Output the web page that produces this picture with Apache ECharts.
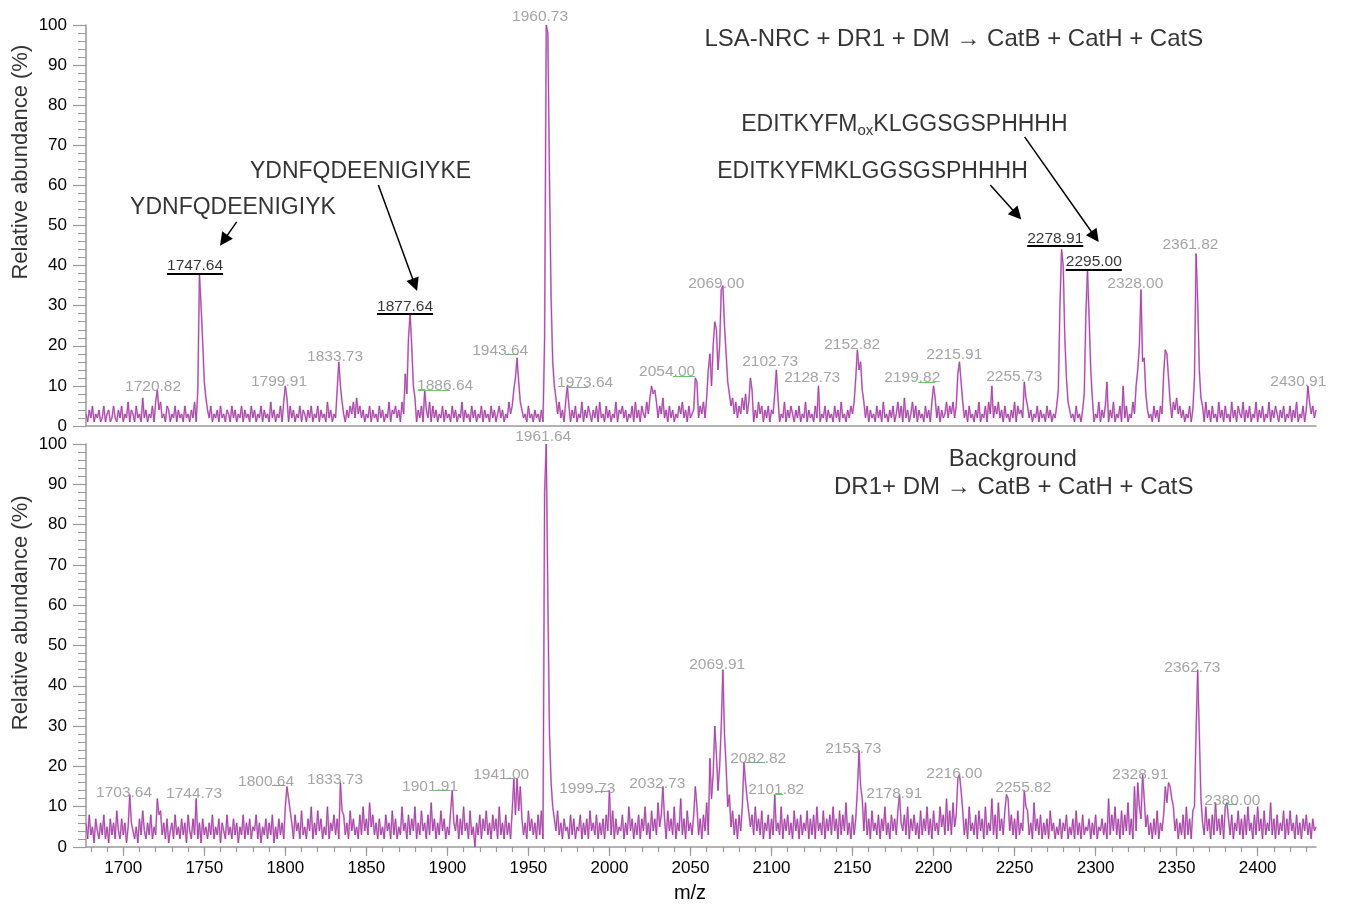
<!DOCTYPE html>
<html>
<head>
<meta charset="utf-8">
<script src="https://cdn.jsdelivr.net/npm/echarts@6/dist/echarts.min.js"></script>
<style>
html,body{margin:0;padding:0;background:#fff;}
#chart{width:1347px;height:910px;}
</style>
</head>
<body>
<div id="chart"></div>
<script>
// ---------------- DATA ----------------
const X_MIN = 1677, X_MAX = 2436;
const MZ_START = 1677; // first m/z of the noise arrays (1 m/z step)

// Top spectrum: baseline noise (1 m/z step, 1677..2436)
const noiseTop = [
3,1,4,2,5,1,3,2,4,1,2,5,1,3,4,1,2,5,2,1,
4,2,5,1,3,2,6,1,4,3,1,5,2,3,1,6,2,4,1,3,
2,5,1,4,3,1,6,2,3,1,5,4,1,3,2,5,1,4,2,3,
1,5,2,3,1,4,2,6,1,3,2,4,2,3,1,4,2,5,1,3,
2,4,1,5,2,3,1,4,3,1,5,2,4,1,3,2,5,1,4,2,
3,1,5,2,4,1,3,2,5,1,4,2,3,1,6,2,4,1,3,2,
5,1,4,2,3,1,5,2,4,1,3,2,5,1,4,3,1,4,2,5,
1,3,2,5,1,4,2,3,1,6,2,4,1,3,2,5,1,4,2,3,
1,4,2,5,3,6,2,7,3,5,2,4,1,3,2,5,1,4,2,3,
1,5,2,4,1,3,2,6,1,4,3,5,2,4,1,6,3,7,4,6,
3,5,2,6,1,4,2,5,1,3,4,2,6,1,5,2,4,1,3,2,
5,1,4,2,3,1,5,2,4,1,3,2,6,1,4,2,3,1,5,2,
4,1,3,2,5,1,4,2,3,1,5,2,4,1,3,5,2,4,1,3,
2,6,3,5,2,4,2,5,1,4,2,3,1,5,2,3,1,4,2,3,
1,4,2,3,1,1,1,1,1,1,5,3,6,2,4,1,6,2,5,1,
4,2,5,1,3,2,6,1,4,2,5,3,1,4,2,5,1,6,2,3,
1,5,2,4,1,3,2,6,1,4,3,5,2,4,1,3,2,5,1,6,
2,4,1,5,3,2,6,3,7,4,8,3,6,2,5,3,7,2,4,1,
5,2,4,1,3,2,5,3,6,2,4,1,5,2,3,4,1,3,2,5,
3,6,2,7,4,9,3,5,4,8,5,9,6,10,7,9,6,10,5,7,
3,6,2,5,3,7,4,8,3,6,2,5,1,4,2,6,3,5,1,4,
2,5,1,4,3,6,2,5,1,3,2,6,1,4,2,5,3,1,4,2,
5,1,3,2,6,1,4,2,3,1,5,2,4,1,3,2,5,1,4,2,
3,1,5,2,4,1,6,2,3,1,4,2,5,3,6,4,8,5,7,3,
6,2,5,1,4,2,3,1,5,2,4,1,6,2,3,1,4,2,5,1,
3,6,2,5,1,7,2,4,1,3,6,2,5,1,4,2,3,1,5,2,
4,1,6,3,7,2,5,1,4,2,3,6,2,5,3,6,2,5,4,7,
3,6,2,4,1,5,2,3,1,4,2,6,1,3,2,5,1,6,3,7,
2,5,3,6,2,4,1,5,2,3,1,4,2,6,1,5,3,4,2,6,
3,5,2,4,1,3,2,5,1,4,2,3,1,5,2,4,1,3,2,5,
1,4,3,6,2,5,1,4,2,3,1,5,2,3,1,4,2,5,1,3,
2,5,1,3,2,6,1,4,2,5,3,1,4,2,6,1,3,2,5,1,
4,2,5,1,3,2,6,3,5,2,4,6,2,5,1,4,2,3,1,5,
2,4,1,5,3,6,4,7,3,5,2,6,4,7,3,5,2,4,1,3,
2,5,1,4,2,3,1,3,2,5,1,6,2,4,1,5,2,3,1,6,
2,4,1,5,2,3,1,6,2,4,1,5,3,2,6,1,4,2,5,1,
3,2,6,1,4,2,5,1,3,2,6,1,4,2,5,3,1,4,2,5,
1,3,2,5,1,4,2,6,1,3,2,5,1,4,2,6,3,5,2,4
];

// Top spectrum: peak profiles [m/z, relative abundance]
const peaksTop = [
[1712,7],[1720,6],[1721,9],[1722,4],
[1746,9],[1747,38],[1748,30],[1749,21],[1750,11],[1751,7],
[1799,6],[1800,10],[1801,7],
[1832,9],[1833,16],[1834,10],[1835,6],
[1874,13],[1875,8],[1876,22],[1877,28],[1878,20],[1879,10],[1880,7],
[1886,9],
[1941,9],[1942,12],[1943,17],[1944,11],[1945,6],
[1959,1],[1960,22],[1961,100],[1962,98],[1963,62],[1964,32],[1965,16],[1966,10],[1967,7],
[1974,10],
[2026,10],[2028,9],
[2053,12],[2054,11],
[2061,14],[2062,18],[2063,10],[2064,20],[2065,26],[2066,24],[2067,14],[2068,20],[2069,34],[2070,35],[2071,25],[2072,18],[2073,11],[2074,8],
[2087,12],[2088,9],
[2102,8],[2103,14],[2104,7],
[2129,10],
[2152,12],[2153,19],[2154,14],[2155,16],[2156,9],
[2200,10],[2201,7],
[2215,13],[2216,16],[2217,11],
[2236,10],
[2256,11],[2257,7],
[2277,9],[2278,30],[2279,44],[2280,40],[2281,22],[2282,12],[2283,6],
[2293,8],[2294,28],[2295,39],[2296,27],[2297,14],[2298,7],
[2307,11],[2317,10],
[2325,10],[2326,14],[2327,20],[2328,34],[2329,16],[2330,17],[2331,8],
[2342,13],[2343,19],[2344,18],[2345,12],[2346,6],
[2361,12],[2362,43],[2363,31],[2364,14],[2365,7],
[2431,10]
];

// Bottom spectrum (background): baseline noise (1 m/z step, 1677..2436)
const noiseBottom = [
6,2,8,3,5,1,7,4,2,6,3,8,2,5,1,7,3,6,2,9,
4,2,7,3,6,1,5,8,3,6,2,5,1,7,3,9,4,2,6,3,
8,2,5,3,7,4,9,3,6,2,7,1,4,6,2,8,3,5,2,7,
3,6,1,8,4,2,7,3,5,2,6,1,7,3,5,2,6,3,8,2,
5,3,7,1,6,4,2,8,3,5,2,7,3,6,1,5,3,8,2,6,
3,7,2,5,4,8,2,6,1,5,3,7,2,6,3,8,1,5,2,7,
3,6,2,9,4,7,3,6,2,8,4,6,2,9,3,5,2,7,4,10,
2,6,3,9,4,7,2,5,3,10,2,6,4,8,3,7,2,6,5,8,
3,6,2,9,4,7,3,5,2,8,3,10,4,7,3,11,5,8,3,6,
2,7,3,5,2,8,4,6,2,9,3,7,2,5,3,10,4,6,2,8,
3,7,4,10,2,6,3,9,4,6,2,8,3,11,4,7,2,6,3,9,
4,7,2,5,3,9,2,6,4,8,2,7,3,10,4,6,2,9,3,5,
0,6,3,8,2,7,4,9,3,6,2,8,4,7,2,10,3,6,2,8,
3,6,2,9,4,6,3,8,2,7,3,6,2,9,4,7,3,6,2,8,
3,9,4,5,2,6,3,6,2,7,4,9,3,6,2,7,4,5,2,8,
3,7,2,5,4,8,2,6,3,7,2,9,4,6,3,8,2,6,3,7,
2,8,4,6,3,9,2,7,3,5,4,8,2,6,3,10,4,7,2,6,
3,8,2,7,4,10,3,6,2,9,4,7,3,11,5,8,3,7,2,9,
4,7,3,10,2,6,4,8,3,7,2,9,4,6,3,8,4,10,3,7,
2,8,4,11,3,9,5,8,4,10,6,9,5,12,7,10,6,13,5,9,
3,7,2,8,4,10,3,9,4,12,5,8,3,10,4,7,3,9,2,6,
4,8,2,7,3,9,4,6,3,10,2,7,4,8,3,6,2,9,4,7,
2,8,3,6,4,9,2,7,3,8,2,10,4,6,3,9,2,7,4,8,
3,10,4,7,2,9,3,8,4,11,3,6,2,8,3,7,2,9,5,8,
4,11,3,7,2,9,4,6,3,8,2,7,4,10,3,6,2,8,4,7,
3,9,2,6,4,8,3,10,2,7,4,8,3,6,2,9,3,7,4,10,
3,7,2,9,4,6,3,10,5,8,3,12,4,9,3,11,5,8,4,10,
5,9,3,7,2,10,4,6,3,8,2,9,4,7,2,10,3,6,4,12,
3,8,2,11,4,7,3,9,2,12,4,8,3,7,2,9,3,6,4,10,
4,9,3,6,2,11,4,7,3,8,2,6,3,7,2,9,4,6,2,5,
3,7,2,6,4,8,2,5,3,7,2,9,3,6,2,8,3,5,4,7,
2,6,3,8,2,5,4,7,3,6,2,12,3,8,4,10,3,7,2,9,
3,8,4,11,3,7,2,13,4,9,3,7,2,12,5,8,3,6,2,7,
3,9,2,6,4,8,3,11,5,9,3,10,4,7,2,6,3,8,2,10,
3,7,2,9,4,6,3,7,2,6,3,10,4,7,2,8,3,11,4,7,
3,8,2,10,4,7,3,8,2,6,4,9,3,7,2,8,3,10,4,6,
2,8,3,10,4,7,2,9,3,6,4,11,3,7,2,8,3,6,4,9,
2,7,3,9,4,6,2,8,3,6,2,7,4,8,3,6,2,7,4,5
];

// Bottom spectrum: peak profiles [m/z, relative abundance]
const peaksBottom = [
[1704,13],[1705,6],[1721,12],[1722,8],[1745,12],
[1800,10],[1801,15],[1802,12],[1803,9],
[1834,16],[1835,9],
[1903,14],
[1941,17],[1942,8],[1943,17],[1944,9],[1945,15],
[1959,2],[1960,88],[1961,100],[1962,62],[1963,28],[1964,16],[1965,10],
[2000,14],[2033,15],[2044,12],[2053,15],
[2062,22],[2063,12],[2064,18],[2065,30],[2066,23],[2067,14],[2068,20],[2069,30],[2070,44],[2071,28],[2072,20],[2073,10],
[2083,21],[2084,16],[2085,12],
[2102,13],
[2153,14],[2154,24],[2155,15],[2156,12],
[2179,13],
[2215,17],[2216,18],[2217,14],
[2245,13],
[2256,14],[2257,10],
[2324,15],[2326,16],[2327,10],[2329,18],[2330,12],
[2343,15],[2345,16],[2346,15],[2347,12],
[2361,10],[2362,29],[2363,44],[2364,28],[2365,12],
[2381,11],[2400,10]
];

// Peak labels: [text, m/z of label centre, abundance of label centre]
const labelsTopGray = [
['1720.82',1718.4,9.9],['1799.91',1796.1,11.1],['1833.73',1830.7,17.3],
['1886.64',1898.6,10.1],['1943.64',1932.6,18.8],['1960.73',1957.2,102.0],
['1973.64',1985.0,10.8],['2054.00',2035.6,13.6],['2069.00',2065.9,35.5],
['2102.73',2099.2,16.1],['2128.73',2125.1,12.1],['2152.82',2149.8,20.3],
['2199.82',2186.9,12.1],['2215.91',2212.8,17.8],['2255.73',2249.8,12.3],
['2328.00',2324.5,35.5],['2361.82',2358.5,45.2],['2430.91',2425.1,11.1]
];
const labelsTopBlack = [
['1747.64',1744.3,39.9],['1877.64',1873.9,29.8],
['2278.91',2275.1,46.8],['2295.00',2298.9,40.9]
];
const labelsBottomGray = [
['1703.64',1700.5,13.4],['1744.73',1743.7,13.2],['1800.64',1788.1,16.2],
['1833.73',1830.7,16.7],['1901.91',1889.3,14.9],['1941.00',1933.2,17.9],
['1961.64',1959.1,101.7],['1999.73',1986.3,14.4],['2032.73',2029.5,15.7],
['2069.91',2066.5,45.3],['2082.82',2091.8,21.9],['2101.82',2102.9,14.2],
['2153.73',2150.5,24.4],['2178.91',2175.8,13.2],['2216.00',2212.8,18.2],
['2255.82',2255.4,14.7],['2328.91',2327.6,17.9],['2362.73',2359.7,44.5],
['2380.00',2384.4,11.4]
];
// Small green centroid marks [from m/z, to m/z, abundance]
const greenTop = [
[1882.0,1901.7,9.0],[1935.6,1943.7,18.0],[1973.9,1986.9,9.7],
[2039.3,2052.9,12.5],[2190.6,2201.1,11.0]
];
const greenBottom = [
[1791.8,1799.8,15.2],[1892.4,1901.7,14.1],[1936.7,1941.2,17.0],
[1991.2,1999.8,13.9],[2083.8,2096.1,21.0],[2102.3,2107.2,13.2],
[2381.1,2387.3,10.7]
];

// Annotation texts [text, m/z anchor, abundance anchor, align]
const notesTop = [
['LSA-NRC + DR1 + DM \u2192 CatB + CatH + CatS',2212.5,96.3,'center'],
['{a|EDITKYFM}{s|ox}{a|KLGGSGSPHHHH}',2081.3,75.2,'left'],
['EDITKYFMKLGGSGSPHHHH',2066.5,63.4,'left'],
['YDNFQDEENIGIYKE',1778.2,63.4,'left'],
['YDNFQDEENIGIYK',1704.2,54.4,'left']
];
const notesBottom = [
['Background',2248.9,96.2,'center'],
['DR1+ DM \u2192 CatB + CatH + CatS',2249.5,89.2,'center']
];
// Arrows [from m/z, from abundance, to m/z, to abundance] (top panel)
const arrowsTop = [
[1770.0,50.9,1762.0,46.3],
[1857.4,60.1,1879.9,35.2],
[2235.0,60.1,2251.5,52.7],
[2256.2,72.1,2299.6,47.2]
];
// Axis tick values
const xTickLabels = [1700,1750,1800,1850,1900,1950,2000,2050,2100,2150,2200,2250,2300,2350,2400];
const xMinorTicks = [1680,1690,1700,1710,1720,1730,1740,1750,1760,1770,1780,1790,1800,1810,1820,1830,1840,1850,1860,1870,1880,1890,1900,1910,1920,1930,1940,1950,1960,1970,1980,1990,2000,2010,2020,2030,2040,2050,2060,2070,2080,2090,2100,2110,2120,2130,2140,2150,2160,2170,2180,2190,2200,2210,2220,2230,2240,2250,2260,2270,2280,2290,2300,2310,2320,2330,2340,2350,2360,2370,2380,2390,2400,2410,2420,2430];
const yAxisTitle = 'Relative abundance (%)';
const yTitleTop = [1636.9,65.8];
const yTitleBottom = [1636.9,58.1];

// ---------------- BUILD ----------------
function buildSpectrum(noise, peaks){
  const pts = noise.map((v,i)=>[MZ_START+i, v]);
  peaks.forEach(([m,v])=>{ const i = m - MZ_START; if (pts[i]) pts[i][1] = v; });
  return pts;
}
const FONT = '"Liberation Sans", Helvetica, Arial, sans-serif';
const AXIS_GRAY = '#9a9a9a';
const LINE_DARK = '#a13aa1';
const LINE_LIGHT = '#dbaadb';
const LABEL_GRAY = '#8d8d8d';

function textItem(text, x, y, extra){
  return { value:[x,y], label:Object.assign({ show:true, position:'inside', formatter:text, fontFamily:FONT }, extra) };
}
function labelScatter(xi, yi, items){
  return { type:'scatter', xAxisIndex:xi, yAxisIndex:yi, symbolSize:1, itemStyle:{color:'rgba(0,0,0,0)'}, clip:false, silent:true, z:5, data:items };
}

const topGrayItems = labelsTopGray.map(([t,x,y])=>textItem(t,x,y,{fontSize:15.5,color:LABEL_GRAY,align:'center',verticalAlign:'middle'}));
const topBlackItems = labelsTopBlack.map(([t,x,y])=>textItem(t,x,y,{fontSize:15.5,color:'#000',align:'center',verticalAlign:'middle'}));
const botGrayItems = labelsBottomGray.map(([t,x,y])=>textItem(t,x,y,{fontSize:15.5,color:LABEL_GRAY,align:'center',verticalAlign:'middle'}));
const richNote = { a:{fontSize:23,color:'#000',fontFamily:FONT,lineHeight:28,verticalAlign:'middle'}, s:{fontSize:15,color:'#000',fontFamily:FONT,lineHeight:28,verticalAlign:'bottom',padding:[10,0,0,0]} };
const topNoteItems = notesTop.map(([t,x,y,al],i)=>textItem(t,x,y,{fontSize:i===0?24:23,color:'#000',align:al,verticalAlign:'middle',rich:(i===1?richNote:undefined)}));
const botNoteItems = notesBottom.map(([t,x,y,al])=>textItem(t,x,y,{fontSize:24,color:'#000',align:al,verticalAlign:'middle'}));
const yTitleStyle = {fontSize:22,color:'#000',align:'center',verticalAlign:'middle',rotate:90};
topNoteItems.push(textItem(yAxisTitle, yTitleTop[0], yTitleTop[1], yTitleStyle));
botNoteItems.push(textItem(yAxisTitle, yTitleBottom[0], yTitleBottom[1], yTitleStyle));

const underlineHalf = 17.3, underlineDrop = 1.85;
const underlineLines = labelsTopBlack.map(([t,x,y])=>[{coord:[x-underlineHalf,y-underlineDrop]},{coord:[x+underlineHalf,y-underlineDrop]}]);
const arrowLines = arrowsTop.map(([x1,y1,x2,y2])=>[{coord:[x1,y1]},{coord:[x2,y2]}]);
const greenLinesTop = greenTop.map(([a,b,y])=>[{coord:[a,y]},{coord:[b,y]}]);
const greenLinesBottom = greenBottom.map(([a,b,y])=>[{coord:[a,y]},{coord:[b,y]}]);

function yAxisCfg(gi){
  return {
    gridIndex:gi, type:'value', min:0, max:100, interval:10,
    axisLine:{show:true, lineStyle:{color:AXIS_GRAY, width:1.5}},
    axisTick:{show:true, length:13, lineStyle:{color:AXIS_GRAY, width:1.2}},
    minorTick:{show:true, splitNumber:5, length:8, lineStyle:{color:AXIS_GRAY, width:1}},
    axisLabel:{fontSize:17, color:'#000', margin:19, fontFamily:FONT},
    splitLine:{show:false}, minorSplitLine:{show:false}
  };
}
function spectrumSeries(xi, yi, data, color, width, z){
  return { type:'line', xAxisIndex:xi, yAxisIndex:yi, data:data, showSymbol:false, symbol:'none',
           sampling:null, z:z, lineStyle:{color:color, width:width}, silent:true };
}

const topData = buildSpectrum(noiseTop, peaksTop);
const botData = buildSpectrum(noiseBottom, peaksBottom);

const option = {
  animation:false,
  backgroundColor:'#ffffff',
  textStyle:{fontFamily:FONT},
  grid:[
    {left:86, right:31, top:25, height:401, containLabel:false, outerBoundsMode:'none'},
    {left:86, right:31, top:444, height:403, containLabel:false, outerBoundsMode:'none'}
  ],
  xAxis:[
    {gridIndex:0, type:'value', min:X_MIN, max:X_MAX,
     axisLine:{show:true, onZero:false, lineStyle:{color:AXIS_GRAY, width:1.5}},
     axisTick:{show:false}, axisLabel:{show:false}, splitLine:{show:false}},
    {gridIndex:1, type:'value', min:X_MIN, max:X_MAX, position:'bottom',
     axisLine:{show:true, onZero:false, lineStyle:{color:AXIS_GRAY, width:1.5}},
     axisTick:{show:true, customValues:xMinorTicks, length:5, lineStyle:{color:AXIS_GRAY, width:1.2}},
     axisLabel:{show:true, customValues:xTickLabels, fontSize:17, color:'#000', margin:13, fontFamily:FONT,
                formatter:(v)=>String(Math.round(v))},
     splitLine:{show:false},
     name:'m/z', nameLocation:'middle', nameGap:36,
     nameTextStyle:{fontSize:20, color:'#000', fontFamily:FONT, padding:[0,22,0,0]}},
    {gridIndex:1, type:'value', min:X_MIN, max:X_MAX, position:'bottom', offset:0,
     axisLine:{show:false, onZero:false},
     axisTick:{show:true, customValues:xTickLabels, length:9, lineStyle:{color:AXIS_GRAY, width:1.2}},
     axisLabel:{show:false}, splitLine:{show:false}}
  ],
  yAxis:[ yAxisCfg(0), yAxisCfg(1) ],
  series:[
    spectrumSeries(0,0, topData, LINE_LIGHT, 1.9, 2),
    spectrumSeries(0,0, topData, LINE_DARK, 0.9, 3),
    spectrumSeries(1,1, botData, LINE_LIGHT, 1.9, 2),
    spectrumSeries(1,1, botData, LINE_DARK, 0.9, 3),
    { type:'line', xAxisIndex:0, yAxisIndex:0, data:[], silent:true, z:6,
      markLine:{ silent:true, animation:false, label:{show:false}, symbol:['none','triangle'], symbolSize:13,
        lineStyle:{color:'#000', width:1.5, type:'solid'}, emphasis:{disabled:true},
        data:arrowLines } },
    { type:'line', xAxisIndex:0, yAxisIndex:0, data:[], silent:true, z:6,
      markLine:{ silent:true, animation:false, label:{show:false}, symbol:['none','none'],
        lineStyle:{color:'#000', width:2, type:'solid'}, emphasis:{disabled:true},
        data:underlineLines } },
    { type:'line', xAxisIndex:0, yAxisIndex:0, data:[], silent:true, z:4,
      markLine:{ silent:true, animation:false, label:{show:false}, symbol:['none','none'],
        lineStyle:{color:'#6cc36c', width:1, type:'solid'}, emphasis:{disabled:true},
        data:greenLinesTop } },
    { type:'line', xAxisIndex:1, yAxisIndex:1, data:[], silent:true, z:4,
      markLine:{ silent:true, animation:false, label:{show:false}, symbol:['none','none'],
        lineStyle:{color:'#6cc36c', width:1, type:'solid'}, emphasis:{disabled:true},
        data:greenLinesBottom } },
    labelScatter(0,0, topGrayItems),
    labelScatter(0,0, topBlackItems),
    labelScatter(0,0, topNoteItems),
    labelScatter(1,1, botGrayItems),
    labelScatter(1,1, botNoteItems)
  ]
};

const chart = echarts.init(document.getElementById('chart'), null, {renderer:'canvas'});
chart.setOption(option);
</script>
</body>
</html>
